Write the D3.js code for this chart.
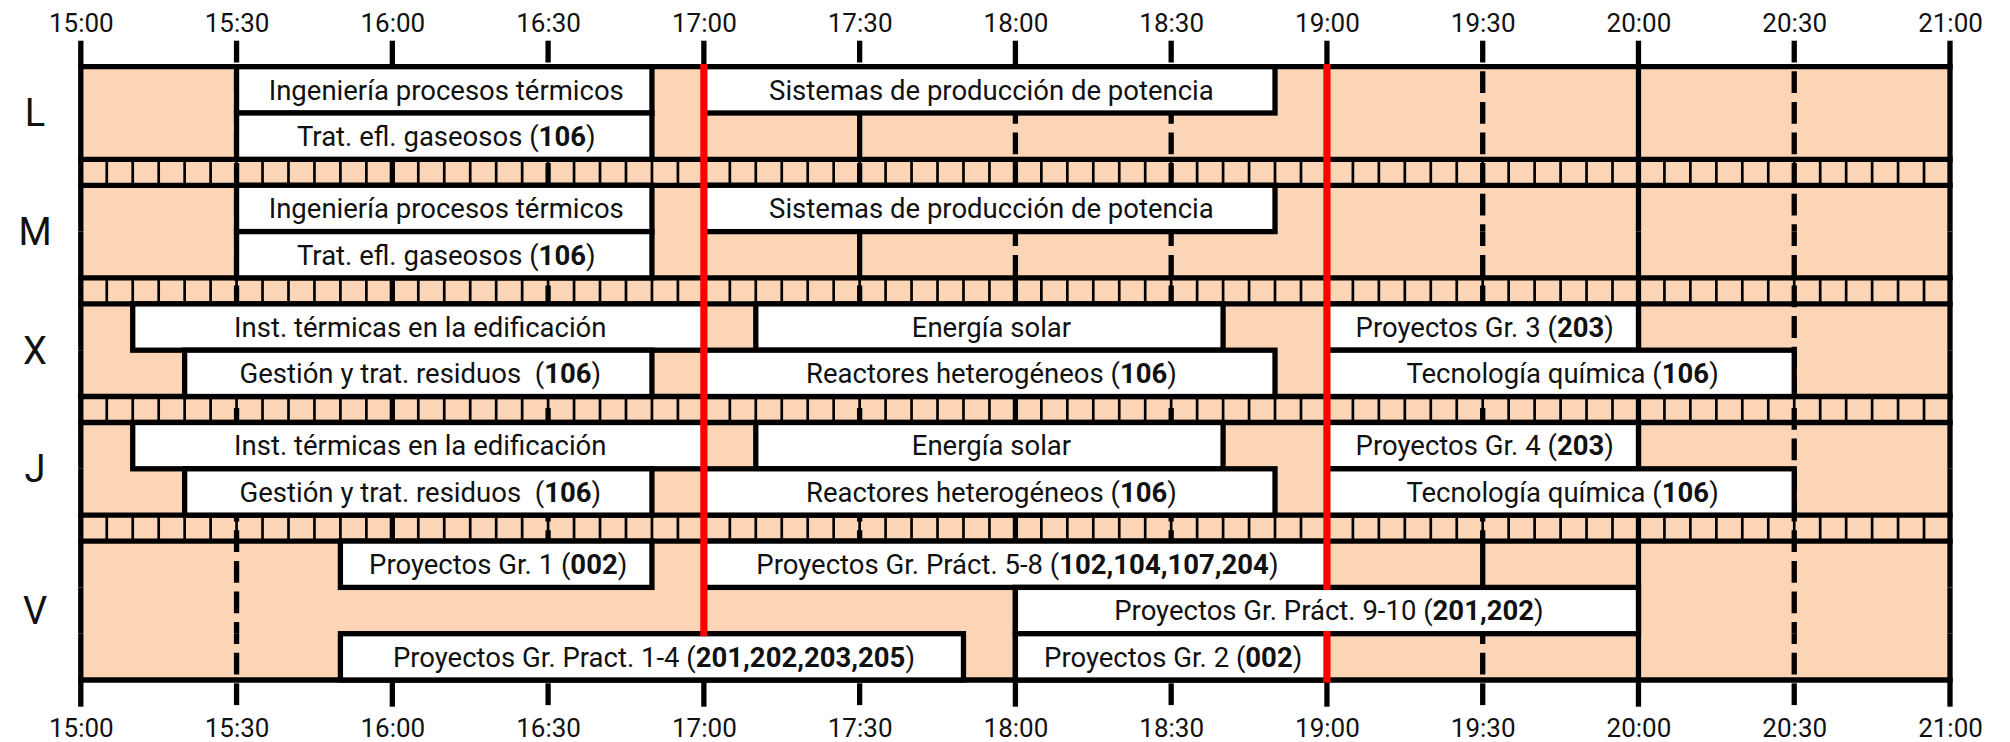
<!DOCTYPE html>
<html>
<head>
<meta charset="utf-8">
<script src="https://cdn.jsdelivr.net/npm/d3@7"></script>
<style>
body { margin: 0; background: #fff; }
text { font-family: Roboto, sans-serif; fill: #111; white-space: pre; }
</style>
</head>
<body>
<div id="chart"></div>
<script>
'use strict'

// days shown on the left and how many sub-rows each one uses
var days = ['L', 'M', 'X', 'J', 'V']
var subrows = [2, 2, 2, 2, 3]

var startTime = '15:00'
var endTime = '21:00'

// classes: day, sub-row, start, end, label (**bold** parts)
var classDays   = ['L', 'L', 'L', 'M', 'M', 'M',
                   'X', 'X', 'X', 'X', 'X', 'X',
                   'J', 'J', 'J', 'J', 'J', 'J',
                   'V', 'V', 'V', 'V', 'V']
var classSubs   = [0, 0, 1, 0, 0, 1,
                   0, 0, 0, 1, 1, 1,
                   0, 0, 0, 1, 1, 1,
                   0, 0, 1, 2, 2]
var classStarts = ['15:30', '17:00', '15:30', '15:30', '17:00', '15:30',
                   '15:10', '17:10', '19:00', '15:20', '17:00', '19:00',
                   '15:10', '17:10', '19:00', '15:20', '17:00', '19:00',
                   '15:50', '17:00', '18:00', '15:50', '18:00']
var classEnds   = ['16:50', '18:50', '16:50', '16:50', '18:50', '16:50',
                   '17:00', '18:40', '20:00', '16:50', '18:50', '20:30',
                   '17:00', '18:40', '20:00', '16:50', '18:50', '20:30',
                   '16:50', '19:00', '20:00', '17:50', '19:00']
var classLabels = [
    'Ingeniería procesos térmicos', 'Sistemas de producción de potencia', 'Trat. efl. gaseosos (**106**)',
    'Ingeniería procesos térmicos', 'Sistemas de producción de potencia', 'Trat. efl. gaseosos (**106**)',
    'Inst. térmicas en la edificación', 'Energía solar', 'Proyectos Gr. 3 (**203**)',
    'Gestión y trat. residuos  (**106**)', 'Reactores heterogéneos (**106**)', 'Tecnología química (**106**)',
    'Inst. térmicas en la edificación', 'Energía solar', 'Proyectos Gr. 4 (**203**)',
    'Gestión y trat. residuos  (**106**)', 'Reactores heterogéneos (**106**)', 'Tecnología química (**106**)',
    'Proyectos Gr. 1 (**002**)', 'Proyectos Gr. Práct. 5-8 (**102,104,107,204**)',
    'Proyectos Gr. Práct. 9-10 (**201,202**)',
    'Proyectos Gr. Pract. 1-4 (**201,202,203,205**)', 'Proyectos Gr. 2 (**002**)'
]

// grid lines that look different inside some sub-rows
var overrideDays   = ['L', 'L', 'M', 'M', 'V', 'V', 'V', 'V']
var overrideSubs   = [1, 1, 1, 1, 0, 1, 1, 1]
var overrideTimes  = ['17:30', '18:00', '17:30', '18:00', '19:30', '16:00', '16:30', '17:30']
var overrideStyles = ['solid', 'dashed', 'solid', 'dashed', 'solid', 'none', 'none', 'none']

// red lines, spans given as sub-row edge indexes (0 = top, 11 = bottom)
var redTimes = ['17:00', '19:00']
var redSpans = [[[0, 10]], [[0, 9], [10, 11]]]

var parseTime = d3.timeParse('%H:%M')
var fmt = d3.timeFormat('%H:%M')

var width = 2010, height = 742
var chartTop = 66.7, subH = 46.3, bandH = 26
var tickTop = 40.7, tickBottom = 706.7
var lw = 5.3, thin = 2.7, redW = 7.2
var dash = [21.8, 8.8], period = dash[0] + dash[1]
var peach = '#fbd5b5'
var fontSize = 27.5
var dayFont = 38

var x = d3.scaleTime()
    .domain([parseTime(startTime), parseTime(endTime)])
    .range([80.8, 1950])

// vertical layout
var slots = []
var rowsY = []
var yy = chartTop
days.forEach(function(d, i) {
    if (i > 0) yy += bandH
    var y0 = yy
    for (var s = 0; s < subrows[i]; s++) {
        slots.push({day: d, sub: s, y0: yy, y1: yy + subH})
        yy += subH
    }
    rowsY.push({day: d, y0: y0, y1: yy})
})
var chartBottom = yy
var slotEdges = slots.map(function(s) { return s.y0 }).concat([chartBottom])

var svg = d3.select('#chart').append('svg')
    .attr('width', width)
    .attr('height', height)

var x0 = x.range()[0], x1 = x.range()[1]

// background
svg.append('rect')
    .attr('x', x0).attr('y', chartTop)
    .attr('width', x1 - x0).attr('height', chartBottom - chartTop)
    .style('fill', peach)

// 5 minute marks inside the bands
var fiveMin = d3.timeMinute.every(5).range(d3.timeMinute.offset(x.domain()[0], 5), x.domain()[1])
d3.pairs(rowsY).forEach(function(p) {
    svg.append('g').selectAll('line').data(fiveMin)
        .enter().append('line')
        .attr('x1', d => x(d)).attr('x2', d => x(d))
        .attr('y1', p[0].y1).attr('y2', p[1].y0)
        .style('stroke', '#000').style('stroke-width', thin)
})

// grid lines, split in pieces so some sub-rows can differ
var halfHours = x.ticks(d3.timeMinute.every(30))
var edges = [tickTop]
slots.forEach(function(s) { edges.push(s.y0, s.y1) })
edges.push(tickBottom)
edges = Array.from(new Set(edges.map(e => +e.toFixed(2)))).sort((a, b) => a - b)
var pieces = d3.pairs(edges).map(function(p) {
    var slot = slots.find(s => Math.abs(s.y0 - p[0]) < 0.05 && Math.abs(s.y1 - p[1]) < 0.05)
    return {y0: p[0], y1: p[1], slot: slot}
})

var styleFor = function(t, slot) {
    var label = fmt(t)
    if (slot) {
        for (var i = 0; i < overrideTimes.length; i++) {
            if (overrideTimes[i] === label && overrideDays[i] === slot.day && overrideSubs[i] === slot.sub) {
                return overrideStyles[i]
            }
        }
    }
    return t.getMinutes() === 0 ? 'solid' : 'dashed'
}

var gridSegs = []
halfHours.forEach(function(t) {
    pieces.forEach(function(p) {
        var st = styleFor(t, p.slot)
        if (st !== 'none') gridSegs.push({t: t, y0: p.y0, y1: p.y1, style: st})
    })
})

svg.append('g').selectAll('line').data(gridSegs)
    .enter().append('line')
    .attr('x1', d => x(d.t)).attr('x2', d => x(d.t))
    .attr('y1', d => d.y0).attr('y2', d => d.y1)
    .style('stroke', '#000')
    .style('stroke-width', lw)
    .style('stroke-dasharray', d => d.style === 'dashed' ? dash.join(',') : null)
    .style('stroke-dashoffset', d => d.style === 'dashed' ? ((d.y0 - tickTop) % period) : null)

// horizontal borders of every day row
var hLines = []
rowsY.forEach(function(r) { hLines.push(r.y0, r.y1) })
svg.append('g').selectAll('line').data(hLines)
    .enter().append('line')
    .attr('x1', x0 - lw / 2).attr('x2', x1 + lw / 2)
    .attr('y1', d => d).attr('y2', d => d)
    .style('stroke', '#000').style('stroke-width', lw)

// class boxes
var classes = classLabels.map(function(label, i) {
    var slot = slots.find(s => s.day === classDays[i] && s.sub === classSubs[i])
    return {
        label: label,
        start: parseTime(classStarts[i]),
        end: parseTime(classEnds[i]),
        y0: slot.y0,
        y1: slot.y1
    }
})

var boxes = svg.append('g').selectAll('g').data(classes)
    .enter().append('g')

boxes.append('rect')
    .attr('x', d => x(d.start))
    .attr('y', d => d.y0)
    .attr('width', d => x(d.end) - x(d.start))
    .attr('height', d => d.y1 - d.y0)
    .style('fill', '#fff')
    .style('stroke', '#000')
    .style('stroke-width', lw)

boxes.append('text')
    .attr('x', d => (x(d.start) + x(d.end)) / 2 + 2)
    .attr('y', d => (d.y0 + d.y1) / 2 + fontSize * 0.355)
    .style('text-anchor', 'middle')
    .style('font-size', fontSize + 'px')
    .each(function(d) {
        var t = d3.select(this)
        d.label.split('**').forEach(function(part, i) {
            if (part) t.append('tspan').style('font-weight', i % 2 ? 'bold' : null).text(part)
        })
    })

// red lines
var redSegs = []
redTimes.forEach(function(t, i) {
    redSpans[i].forEach(function(s) {
        redSegs.push({t: parseTime(t), y0: slotEdges[s[0]] - lw / 2, y1: slotEdges[s[1]] + lw / 2})
    })
})
svg.append('g').selectAll('line').data(redSegs)
    .enter().append('line')
    .attr('x1', d => x(d.t)).attr('x2', d => x(d.t))
    .attr('y1', d => d.y0).attr('y2', d => d.y1)
    .style('stroke', '#ff0000').style('stroke-width', redW)

// time labels on top and bottom
var styleAxis = function(g) {
    g.select('.domain').remove()
    g.attr('font-family', null).attr('font-size', null)
    g.selectAll('text')
        .attr('y', 0).attr('dy', 0)
        .style('font-size', '26px')
        .style('fill', '#111')
}

svg.append('g')
    .attr('transform', 'translate(0,31.7)')
    .call(d3.axisTop(x).tickValues(halfHours).tickFormat(fmt).tickSize(0))
    .call(styleAxis)

svg.append('g')
    .attr('transform', 'translate(0,736.7)')
    .call(d3.axisBottom(x).tickValues(halfHours).tickFormat(fmt).tickSize(0))
    .call(styleAxis)

// day labels
svg.append('g').selectAll('text').data(rowsY)
    .enter().append('text')
    .attr('x', 35)
    .attr('y', d => (d.y0 + d.y1) / 2 + dayFont * 0.355)
    .style('text-anchor', 'middle')
    .style('font-size', dayFont + 'px')
    .text(d => d.day)
</script>
</body>
</html>
